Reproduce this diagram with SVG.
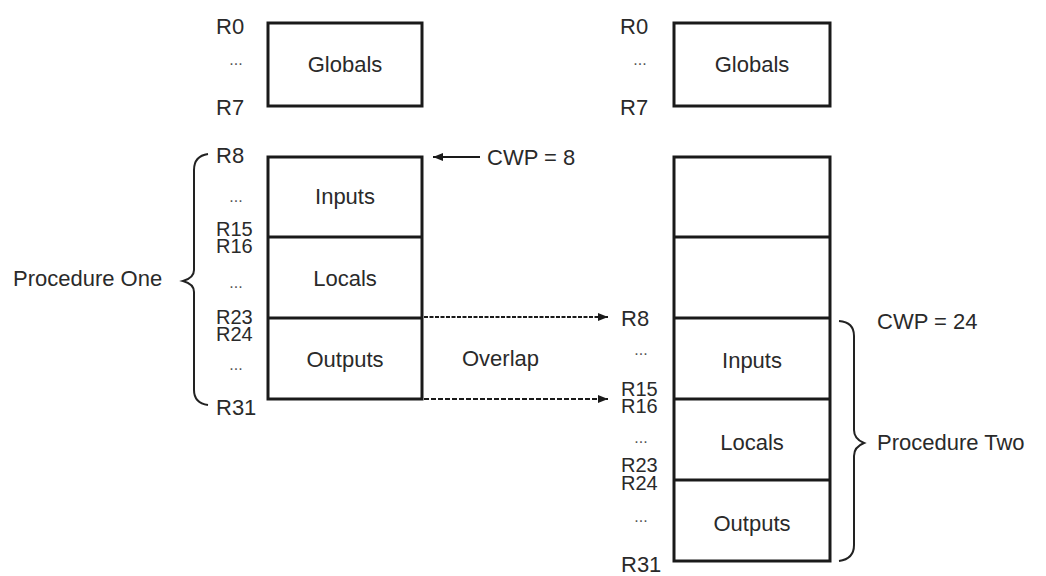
<svg xmlns="http://www.w3.org/2000/svg" width="1046" height="576" viewBox="0 0 1046 576">
<defs>
<style>
text{font-family:"Liberation Sans",Arial,sans-serif;font-size:22px;fill:#2a2a2a}
.mid{text-anchor:middle}
.stk{font-size:20px}
.box{fill:none;stroke:#1a1a1a;stroke-width:3}
.div{stroke:#1a1a1a;stroke-width:3}
.brace{fill:none;stroke:#222;stroke-width:2}
.dots{font-size:16px;fill:#555}
</style>
<marker id="ah" viewBox="0 0 10 10" refX="10" refY="5" markerWidth="10" markerHeight="10" markerUnits="userSpaceOnUse" orient="auto">
<path d="M0,1 L10,5 L0,9 Z" fill="#1a1a1a"/>
</marker>
</defs>
<rect width="1046" height="576" fill="#fff"/>

<g id="left-globals">
<rect class="box" x="268" y="23" width="154" height="83"/>
<text class="mid" x="345" y="72">Globals</text>
<text x="216" y="34">R0</text>
<text class="dots mid" x="236" y="65">...</text>
<text x="216" y="115">R7</text>
</g>

<g id="left-window">
<rect class="box" x="268" y="157" width="154" height="242"/>
<line class="div" x1="268" y1="237" x2="422" y2="237"/>
<line class="div" x1="268" y1="318" x2="422" y2="318"/>
<text class="mid" x="345" y="204">Inputs</text>
<text class="mid" x="345" y="286">Locals</text>
<text class="mid" x="345" y="367">Outputs</text>
<text x="216" y="163">R8</text>
<text class="dots mid" x="236" y="202">...</text>
<text class="stk" x="216" y="236">R15</text>
<text class="stk" x="216" y="253">R16</text>
<text class="dots mid" x="236" y="288">...</text>
<text class="stk" x="216" y="324">R23</text>
<text class="stk" x="216" y="341">R24</text>
<text class="dots mid" x="236" y="370">...</text>
<text x="216" y="415">R31</text>
</g>

<g id="procedure-one">
<path class="brace" d="M208,154 Q194,156 194,170 L194,270 Q194,278 183,281 Q194,284 194,292 L194,390 Q194,403 208,405"/>
<text x="13" y="286">Procedure One</text>
</g>

<g id="cwp8">
<text x="487" y="165">CWP = 8</text>
</g>

<g id="overlap">
<text x="462" y="366">Overlap</text>
</g>

<g id="right-globals">
<rect class="box" x="674" y="23" width="156" height="83"/>
<text class="mid" x="752" y="72">Globals</text>
<text x="620" y="34">R0</text>
<text class="dots mid" x="640" y="65">...</text>
<text x="620" y="115">R7</text>
</g>

<g id="right-window">
<rect class="box" x="674" y="157" width="156" height="404"/>
<line class="div" x1="674" y1="237" x2="830" y2="237"/>
<line class="div" x1="674" y1="318" x2="830" y2="318"/>
<line class="div" x1="674" y1="399" x2="830" y2="399"/>
<line class="div" x1="674" y1="480" x2="830" y2="480"/>
<text class="mid" x="752" y="368">Inputs</text>
<text class="mid" x="752" y="450">Locals</text>
<text class="mid" x="752" y="531">Outputs</text>
<text x="621" y="326">R8</text>
<text class="dots mid" x="641" y="355">...</text>
<text class="stk" x="621" y="396">R15</text>
<text class="stk" x="621" y="413">R16</text>
<text class="dots mid" x="641" y="443">...</text>
<text class="stk" x="621" y="472">R23</text>
<text class="stk" x="621" y="490">R24</text>
<text class="dots mid" x="641" y="522">...</text>
<text x="621" y="572">R31</text>
</g>

<g id="procedure-two">
<path class="brace" d="M839,321 Q854,322 854,336 L854,430 Q854,439 864,443 Q854,447 854,456 L854,545 Q854,559 839,561"/>
<text x="877" y="329">CWP = 24</text>
<text x="877" y="450">Procedure Two</text>
</g>

<g id="connectors">
<line x1="480" y1="157" x2="433" y2="157" stroke="#1a1a1a" stroke-width="2" marker-end="url(#ah)"/>
<line x1="424" y1="317" x2="608" y2="317" stroke="#1a1a1a" stroke-width="2" stroke-dasharray="4 1.5" marker-end="url(#ah)"/>
<line x1="424" y1="399" x2="608" y2="399" stroke="#1a1a1a" stroke-width="2" stroke-dasharray="5 2" marker-end="url(#ah)"/>
</g>
</svg>
